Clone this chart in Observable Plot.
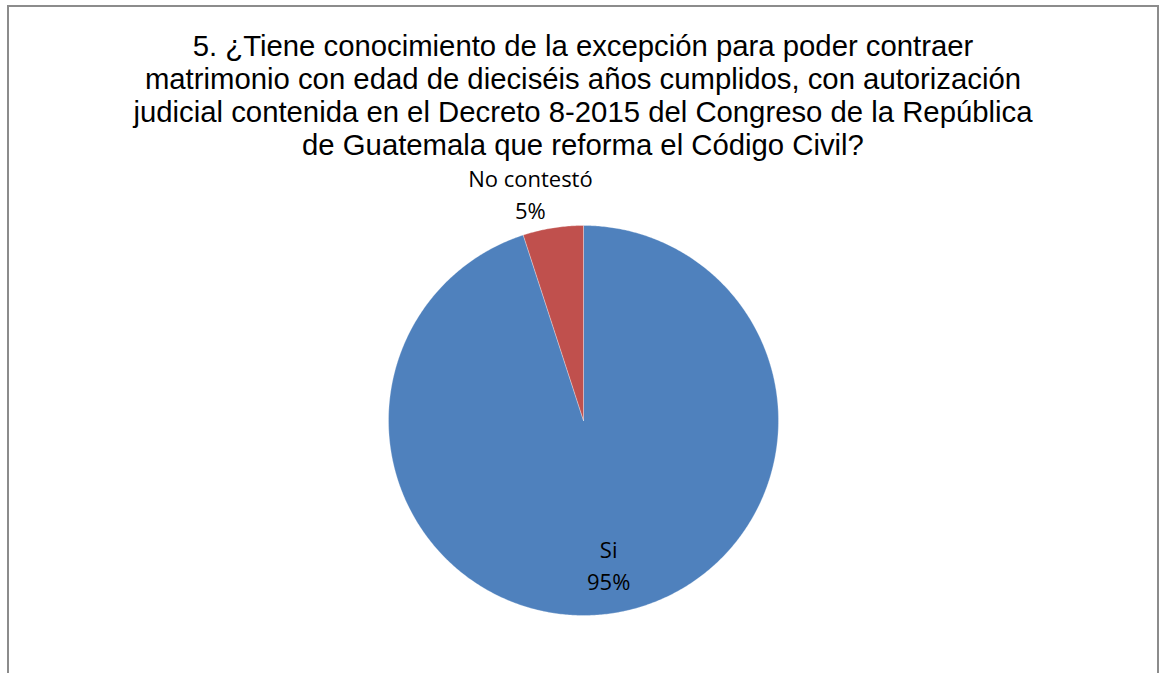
<!DOCTYPE html>
<html>
<head>
<meta charset="utf-8">
<script src="https://cdn.jsdelivr.net/npm/d3@7"></script>
<script src="https://cdn.jsdelivr.net/npm/@observablehq/plot@0.6"></script>
<style>
  html, body { margin: 0; padding: 0; background: #fff; }
  #wrap { position: relative; width: 1161px; height: 673px; overflow: hidden; }
  #frame { position: absolute; left: 7px; top: 5px; width: 1152px; height: 700px; border: 2px solid #8c8c8c; box-sizing: border-box; }
  #title { position: absolute; left: 0; top: 29px; width: 1166px; text-align: center;
    font-family: "Liberation Sans", Arial, sans-serif; font-size: 29.3px; line-height: 33px; color: #000; }
  #chart { position: absolute; left: 0; top: 0; }
</style>
</head>
<body>
<div id="wrap">
  <div id="frame"></div>
  <div id="chart"></div>
  <div id="title">5. ¿Tiene conocimiento de la excepción para poder contraer<br>matrimonio con edad de dieciséis años cumplidos, con autorización<br>judicial contenida en el Decreto 8-2015 del Congreso de la República<br>de Guatemala que reforma el Código Civil?</div>
</div>
<script>
const categories = ["Si", "No contestó"];
const values = [95, 5];
const colors = ["#4F81BD", "#C0504D"];
const percentLabels = ["95%", "5%"];

const data = categories.map((c, i) => ({category: c, value: values[i], color: colors[i], pct: percentLabels[i]}));
const arcs = d3.pie().value(d => d.value).sort(null)(data);

// polygon points for each slice, in unit-circle coordinates (angle clockwise from top)
const slicePts = [];
arcs.forEach(a => {
  const n = Math.max(2, Math.ceil((a.endAngle - a.startAngle) / (Math.PI / 360)));
  slicePts.push({cat: a.data.category, x: 0, y: 0});
  for (let k = 0; k <= n; k++) {
    const t = a.startAngle + (a.endAngle - a.startAngle) * k / n;
    slicePts.push({cat: a.data.category, x: Math.sin(t), y: Math.cos(t)});
  }
  slicePts.push({cat: a.data.category, x: 0, y: 0});
});

const labelR = {"Si": 0.76, "No contestó": 1.15};
const labels = arcs.map(a => {
  const m = (a.startAngle + a.endAngle) / 2;
  const r = labelR[a.data.category];
  return {cat: a.data.category, text: a.data.category + "\n" + a.data.pct, x: r * Math.sin(m), y: r * Math.cos(m)};
});

const cx = 583, cy = 420, R = 195;
const labelFont = "'Open Sans', Lato, sans-serif";
const plot = Plot.plot({
  width: 1161, height: 673, margin: 0,
  x: {domain: [-1, 1], range: [cx - R, cx + R], axis: null},
  y: {domain: [-1, 1], range: [cy + R, cy - R], axis: null},
  color: {domain: categories, range: colors},
  style: {background: "transparent", overflow: "visible"},
  marks: [
    Plot.line(slicePts, {x: "x", y: "y", z: "cat", fill: "cat", stroke: "#ffffff", strokeWidth: 0.6, strokeOpacity: 0.5, curve: "linear"}),
    Plot.text(labels.filter(d => d.cat === "Si"), {x: "x", y: "y", text: "text", fontSize: 22, lineHeight: 1.45, fill: "#000",
      fontFamily: labelFont, dx: 2, dy: -3}),
    Plot.text(labels.filter(d => d.cat !== "Si"), {x: "x", y: "y", text: "text", fontSize: 22, lineHeight: 1.45, fill: "#000",
      fontFamily: labelFont, dx: -18, dy: -6})
  ]
});
document.getElementById("chart").appendChild(plot);
</script>
</body>
</html>
